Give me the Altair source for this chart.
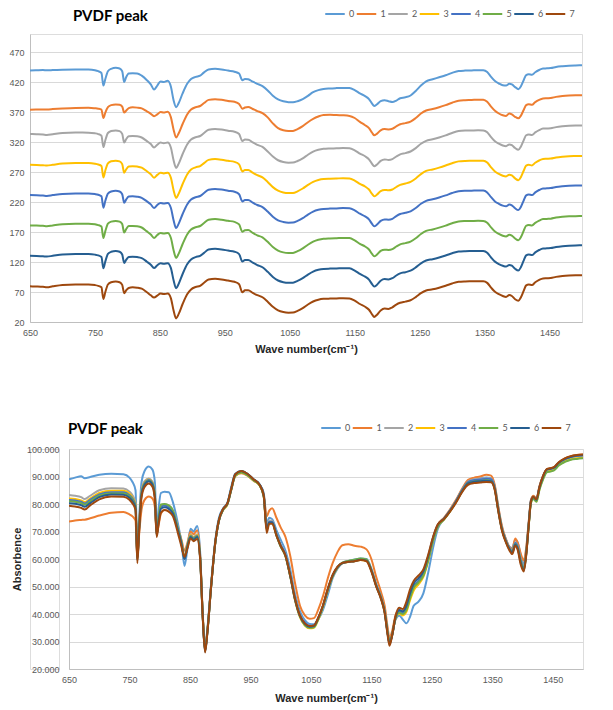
import altair as alt
import pandas as pd

wavenumber = [
    650, 660, 670, 676, 685, 700, 720, 740, 750, 755,
    760, 763, 766, 770, 775, 782, 788, 792, 795, 798,
    802, 808, 815, 822, 830, 836, 841, 846, 851, 856,
    862, 867, 871, 875, 879, 885, 892, 898, 905, 912,
    918, 925, 935, 945, 955, 965, 972, 977, 981, 986,
    993, 1000, 1008, 1016, 1024, 1032, 1040, 1048, 1055, 1062,
    1070, 1078, 1086, 1094, 1102, 1112, 1122, 1132, 1142, 1150,
    1158, 1166, 1172, 1177, 1180, 1184, 1190, 1196, 1202, 1208,
    1214, 1220, 1228, 1236, 1244, 1252, 1260, 1270, 1280, 1290,
    1300, 1310, 1320, 1330, 1340, 1348, 1354, 1360, 1366, 1372,
    1378, 1383, 1388, 1392, 1397, 1402, 1406, 1410, 1414, 1418,
    1423, 1428, 1434, 1440, 1446, 1452, 1460, 1470, 1480, 1490,
    1500,
]

s0 = [
    89.0, 89.6, 90.1, 89.4, 89.8, 90.6, 91.0, 90.8, 89.6, 88.0,
    85.0, 64.0, 75.0, 88.0, 92.0, 93.6, 92.5, 88.0, 70.0, 78.0,
    84.0, 84.5, 84.3, 80.5, 73.0, 66.0, 57.5, 64.0, 71.0, 70.0,
    72.0, 62.0, 40.0, 28.0, 35.0, 51.0, 67.0, 75.0, 78.5, 80.5,
    86.0, 91.0, 92.0, 91.0, 89.0, 87.2, 84.0, 73.0, 75.0, 74.5,
    70.5, 67.0, 63.0, 56.0, 47.0, 41.0, 37.8, 36.4, 36.3, 38.0,
    41.5, 47.0, 53.0, 56.5, 58.5, 59.3, 59.8, 60.2, 60.0, 56.5,
    51.0, 46.5, 41.5, 33.5, 30.0, 32.5, 38.0, 39.5, 38.0, 36.6,
    39.0, 43.0, 44.5, 47.5, 55.0, 64.0, 71.0, 74.5, 77.8, 81.2,
    85.2, 88.3, 89.0, 89.3, 89.6, 89.4, 86.5, 78.5, 71.5, 67.5,
    64.5, 64.0, 67.0, 66.0, 61.5, 58.0, 63.0, 72.5, 81.5, 82.8,
    82.0, 86.2, 90.0, 92.5, 92.8, 93.2, 95.0, 96.3, 97.2, 97.6,
    97.8,
]
s1 = [
    73.6, 74.0, 74.2, 74.3, 74.8, 75.8, 76.8, 77.1, 76.2, 75.5,
    74.0, 60.0, 69.0, 78.0, 81.5, 82.7, 82.0, 79.0, 69.0, 72.0,
    76.5, 77.8, 77.3, 76.0, 71.0, 67.0, 63.0, 66.0, 70.0, 69.0,
    70.5, 61.0, 41.0, 27.5, 34.5, 50.0, 66.0, 74.0, 78.0, 80.0,
    85.0, 90.2, 91.2, 90.3, 88.5, 87.0, 83.5, 75.5, 77.5, 78.5,
    75.0, 71.5, 68.0, 61.0, 51.0, 43.0, 39.5, 38.3, 38.5, 41.5,
    46.5, 53.0, 58.5, 62.5, 65.0, 65.4, 64.8, 64.5, 63.5, 60.0,
    53.5, 48.0, 43.0, 35.0, 31.2, 33.5, 39.5, 41.5, 41.0, 42.0,
    46.0, 49.5, 51.5, 54.0, 60.0, 67.5, 72.5, 75.0, 78.0, 81.5,
    85.5, 88.8, 89.6, 90.0, 90.6, 90.3, 87.0, 79.0, 72.0, 67.5,
    64.5, 63.5, 67.5, 66.0, 62.0, 59.5, 64.0, 73.0, 81.5, 83.0,
    82.0, 86.5, 90.3, 92.6, 93.0, 93.4, 95.2, 96.6, 97.4, 97.8,
    98.0,
]
s2 = [
    83.3, 83.0, 82.5, 81.8, 83.0, 85.0, 85.7, 85.6, 84.5, 83.2,
    80.5, 61.5, 73.0, 85.0, 88.3, 89.3, 88.2, 83.5, 69.0, 74.5,
    79.5, 80.0, 79.5, 77.5, 71.5, 66.5, 61.0, 65.5, 69.0, 68.0,
    69.0, 60.5, 40.0, 26.8, 34.0, 50.0, 66.0, 74.0, 78.0, 80.0,
    85.0, 90.5, 91.8, 90.8, 88.8, 87.0, 83.2, 71.5, 74.0, 73.8,
    69.2, 65.3, 61.8, 54.2, 45.8, 39.6, 36.7, 35.5, 35.7, 38.3,
    42.8, 48.8, 54.0, 57.0, 58.6, 59.2, 59.5, 60.0, 59.7, 56.2,
    50.7, 46.2, 41.2, 33.2, 29.6, 32.2, 38.6, 41.0, 40.2, 41.5,
    45.8, 49.5, 51.5, 54.2, 59.8, 67.0, 72.0, 74.5, 77.6, 81.1,
    85.1, 88.2, 89.0, 89.2, 89.4, 89.2, 86.2, 78.2, 71.2, 67.2,
    64.2, 63.0, 66.0, 64.8, 60.0, 57.0, 62.5, 72.2, 81.2, 82.6,
    81.6, 86.0, 89.8, 92.3, 92.6, 93.0, 94.8, 96.1, 96.9, 97.3,
    97.5,
]
s3 = [
    82.0, 81.8, 81.3, 80.7, 82.0, 84.0, 84.8, 84.8, 83.7, 82.4,
    80.0, 61.0, 72.5, 84.3, 87.8, 88.9, 87.7, 83.2, 68.8, 74.2,
    79.2, 79.7, 79.0, 77.2, 71.2, 66.2, 60.5, 65.2, 68.7, 67.7,
    68.7, 60.2, 40.0, 26.8, 34.0, 50.0, 66.0, 74.0, 77.8, 79.8,
    84.8, 90.2, 91.5, 90.5, 88.6, 86.8, 82.8, 71.0, 73.4, 73.2,
    68.8, 64.7, 61.0, 53.5, 44.8, 38.8, 35.8, 34.8, 35.0, 37.8,
    42.5, 48.5, 53.6, 56.8, 58.4, 58.9, 59.2, 59.6, 59.3, 55.8,
    50.2, 45.8, 40.8, 33.0, 29.6, 32.0, 38.3, 40.2, 39.5, 40.8,
    45.0, 48.5, 50.8, 53.5, 59.2, 66.5, 71.8, 74.3, 77.3, 80.8,
    84.7, 87.7, 88.4, 88.6, 88.8, 88.6, 85.7, 77.7, 70.8, 66.8,
    63.8, 62.6, 65.5, 64.2, 59.3, 56.3, 61.8, 71.6, 80.6, 82.0,
    81.0, 85.4, 89.2, 91.7, 92.0, 92.4, 94.2, 95.5, 96.3, 96.6,
    96.8,
]
s4 = [
    81.5, 81.3, 80.8, 80.2, 81.5, 83.5, 84.3, 84.3, 83.2, 82.0,
    79.5, 60.5, 72.0, 84.0, 87.5, 88.7, 87.5, 83.0, 68.8, 74.0,
    79.0, 79.5, 78.8, 77.0, 71.0, 66.0, 60.0, 65.0, 68.5, 67.5,
    68.5, 60.0, 40.0, 26.5, 34.0, 50.0, 66.0, 74.0, 78.0, 80.0,
    85.0, 90.5, 91.8, 90.8, 88.8, 87.0, 83.0, 71.0, 73.5, 73.5,
    69.0, 65.0, 61.5, 54.0, 45.5, 39.5, 36.8, 35.6, 35.8, 38.5,
    43.0, 49.0, 54.0, 57.0, 58.5, 59.0, 59.3, 59.8, 59.5, 56.0,
    50.5, 46.0, 41.0, 33.0, 29.5, 32.0, 38.5, 41.0, 40.5, 42.0,
    46.5, 50.0, 52.0, 54.5, 60.0, 67.0, 72.0, 74.5, 77.5, 81.0,
    85.0, 88.0, 88.7, 88.9, 89.2, 89.0, 86.0, 78.0, 71.0, 67.0,
    64.0, 62.8, 65.8, 64.5, 59.5, 56.5, 62.0, 72.0, 81.0, 82.5,
    81.5, 86.0, 90.0, 92.5, 92.8, 93.2, 95.0, 96.3, 97.1, 97.5,
    97.7,
]
s5 = [
    81.0, 80.8, 80.3, 79.7, 81.0, 83.0, 83.8, 83.8, 82.8, 81.5,
    79.0, 60.0, 71.5, 83.8, 87.3, 88.5, 87.3, 83.2, 69.0, 74.5,
    79.8, 80.0, 79.5, 77.5, 71.0, 65.8, 60.2, 65.0, 68.3, 67.3,
    68.3, 60.0, 40.0, 26.8, 34.0, 50.0, 66.0, 74.0, 78.0, 80.0,
    85.0, 90.3, 91.5, 90.5, 88.6, 86.8, 82.6, 70.5, 73.0, 73.2,
    68.6, 64.5, 61.0, 53.6, 45.0, 39.0, 36.0, 35.0, 35.2, 38.0,
    42.8, 48.8, 53.8, 57.0, 58.7, 59.3, 59.7, 60.2, 59.8, 56.0,
    50.3, 45.8, 40.8, 33.0, 29.5, 32.0, 38.5, 40.5, 40.0, 41.5,
    45.8, 49.5, 51.5, 54.0, 59.5, 66.7, 71.8, 74.3, 77.3, 80.7,
    84.6, 87.6, 88.2, 88.4, 88.6, 88.4, 85.5, 77.6, 70.7, 66.7,
    63.7, 62.5, 65.4, 64.0, 59.2, 56.2, 61.6, 71.5, 80.4, 81.8,
    80.8, 85.2, 89.0, 91.5, 91.8, 92.2, 94.0, 95.3, 96.1, 96.4,
    96.6,
]
s6 = [
    80.3, 80.1, 79.6, 79.0, 80.3, 82.5, 83.5, 83.4, 82.3, 81.0,
    78.5, 59.5, 71.0, 83.5, 87.0, 88.3, 87.0, 82.5, 68.5, 73.5,
    78.3, 78.8, 78.2, 76.5, 70.5, 65.5, 60.0, 64.5, 68.0, 67.0,
    68.0, 59.8, 39.8, 26.3, 33.8, 50.0, 66.2, 74.2, 78.2, 80.2,
    85.2, 90.8, 92.0, 91.0, 89.0, 87.2, 83.2, 70.8, 73.3, 73.3,
    68.8, 64.8, 61.2, 53.6, 45.0, 39.2, 36.4, 35.4, 35.6, 38.4,
    43.0, 49.0, 54.0, 57.0, 58.5, 59.0, 59.2, 59.7, 59.4, 55.8,
    50.2, 45.6, 40.6, 32.6, 29.0, 31.8, 38.8, 41.5, 41.0, 43.0,
    47.5, 51.0, 53.0, 55.5, 61.0, 67.8, 72.5, 74.7, 77.5, 80.8,
    84.6, 87.5, 88.1, 88.3, 88.5, 88.3, 85.5, 77.5, 70.6, 66.6,
    63.7, 62.3, 65.2, 63.8, 58.7, 55.8, 61.5, 71.8, 81.0, 82.5,
    81.5, 86.0, 90.0, 92.5, 92.8, 93.2, 95.0, 96.4, 97.2, 97.6,
    97.8,
]
s7 = [
    79.4, 79.1, 78.6, 78.0, 79.5, 81.7, 82.7, 82.6, 81.5, 80.2,
    77.8, 58.5, 70.0, 82.5, 86.2, 87.5, 86.3, 81.8, 68.0, 72.5,
    76.8, 77.8, 77.2, 75.5, 69.5, 64.5, 60.8, 64.0, 67.5, 66.5,
    67.3, 59.5, 39.5, 26.0, 33.5, 50.0, 66.3, 74.3, 78.3, 80.3,
    85.3, 90.8, 92.0, 91.0, 89.0, 87.0, 83.0, 69.5, 72.8, 72.8,
    68.5, 64.8, 61.2, 53.8, 45.3, 39.4, 36.6, 35.6, 35.8, 38.6,
    43.2, 49.2, 54.2, 57.2, 58.6, 59.0, 59.2, 59.6, 59.2, 55.5,
    50.0, 45.4, 40.4, 32.2, 28.5, 31.8, 39.3, 42.3, 41.8, 44.5,
    49.0, 52.0, 54.0, 56.2, 61.5, 68.0, 72.6, 74.5, 77.2, 80.5,
    84.3, 87.0, 87.6, 87.8, 88.0, 87.9, 85.2, 77.2, 70.3, 66.3,
    63.3, 61.8, 64.8, 63.3, 58.0, 55.5, 61.2, 71.5, 81.0, 82.6,
    81.7, 86.2, 90.2, 92.7, 93.0, 93.4, 95.2, 96.6, 97.4, 97.8,
    98.0,
]

series_names = ["0", "1", "2", "3", "4", "5", "6", "7"]
series_values = [s0, s1, s2, s3, s4, s5, s6, s7]
colors = ["#5B9BD5", "#ED7D31", "#A5A5A5", "#FFC000",
          "#4472C4", "#70AD47", "#255E91", "#9E480E"]
offset_step = 50  # vertical offset between stacked spectra in the top panel
chart_title = ["PVDF peak"]

x_ticks = [650, 750, 850, 950, 1050, 1150, 1250, 1350, 1450]
top_y_ticks = [20, 70, 120, 170, 220, 270, 320, 370, 420, 470]
bottom_y_ticks = [20, 30, 40, 50, 60, 70, 80, 90, 100]

rows = []
for idx, (name, vals) in enumerate(zip(series_names, series_values)):
    for w, v in zip(wavenumber, vals):
        rows.append({"wn": w, "value": v, "series": name, "idx": idx})
df = pd.DataFrame(rows)
title_df = pd.DataFrame({"t": chart_title})

FONT = "Lato"
LABEL_COLOR = "#595959"
TITLE_COLOR = "#262626"
GRID_COLOR = "#D9D9D9"
DOMAIN_COLOR = "#BFBFBF"
TOP_W = 552
TOP_H = 288
BOT_W = 514
BOT_H = 220
BOT_INDENT = 39  # the lower plot starts this many px right of the upper one
SPACER_GAP = 10


def legend(x, y):
    return alt.Legend(
        title=None, orient="none", legendX=x, legendY=y,
        direction="horizontal", columns=8,
        symbolType="stroke", symbolSize=380, symbolStrokeWidth=2,
        labelFontSize=9, labelColor=LABEL_COLOR, labelFont=FONT,
        labelOffset=3, columnPadding=0.5, clipHeight=10,
    )


def x_enc(title_pad):
    return alt.X(
        "wn:Q",
        scale=alt.Scale(domain=[650, 1500], nice=False, zero=False),
        axis=alt.Axis(
            values=x_ticks, format="d", title="Wave number(cm\u207b\u00b9)",
            grid=False, ticks=False, labelPadding=6, labelFontSize=9,
            labelColor=LABEL_COLOR, domainColor=DOMAIN_COLOR, titleFontSize=11,
            titleFontWeight="bold", titleColor=TITLE_COLOR,
            titlePadding=title_pad, labelFlush=False,
        ),
    )


def title_mark(x, y):
    return alt.Chart(title_df).mark_text(
        align="left", baseline="middle", fontSize=15, fontWeight="bold",
        font=FONT, color="black", clip=False,
    ).encode(x=alt.value(x), y=alt.value(y), text="t:N")


top_lines = (
    alt.Chart(df)
    .transform_calculate(shifted=f"datum.value + (7 - datum.idx) * {offset_step}")
    .mark_line(strokeWidth=2, interpolate="monotone", clip=True)
    .encode(
        x=x_enc(6),
        y=alt.Y(
            "shifted:Q",
            scale=alt.Scale(domain=[20, 500], nice=False, zero=False),
            axis=alt.Axis(
                values=top_y_ticks, title=None, grid=True, gridColor=GRID_COLOR,
                ticks=False, labelPadding=6, labelFontSize=9,
                labelColor=LABEL_COLOR, domainColor=DOMAIN_COLOR,
            ),
        ),
        color=alt.Color(
            "series:N",
            scale=alt.Scale(domain=series_names, range=colors),
            legend=legend(294, -25),
        ),
    )
)
top = alt.layer(top_lines, title_mark(43, -18)).properties(width=TOP_W, height=TOP_H)

bottom_lines = (
    alt.Chart(df)
    .mark_line(strokeWidth=2, interpolate="monotone", clip=True)
    .encode(
        x=x_enc(8),
        y=alt.Y(
            "value:Q",
            scale=alt.Scale(domain=[20, 100], nice=False, zero=False),
            axis=alt.Axis(
                values=bottom_y_ticks, format=".3f", title="Absorbence",
                grid=True, gridColor=GRID_COLOR, ticks=False, labelPadding=10,
                labelFontSize=9, labelColor=LABEL_COLOR, domainColor=DOMAIN_COLOR,
                titleFontSize=11, titleFontWeight="bold", titleColor=TITLE_COLOR,
                titlePadding=4,
            ),
        ),
        color=alt.Color(
            "series:N",
            scale=alt.Scale(domain=series_names, range=colors),
            legend=legend(290, -26),
        ),
    )
)
bottom = alt.layer(bottom_lines, title_mark(-1, -20)).properties(width=BOT_W, height=BOT_H)

# invisible spacer that indents the lower panel (its axis may overlap it)
spacer = alt.Chart(title_df).mark_point(opacity=0).encode(
    x=alt.value(0), y=alt.value(0)
).properties(width=BOT_INDENT - SPACER_GAP, height=BOT_H)

bottom_row = alt.hconcat(spacer, bottom, spacing=SPACER_GAP, bounds="flush")

chart = (
    alt.vconcat(top, bottom_row, spacing=66)
    .resolve_scale(color="independent")
    .resolve_legend(color="independent")
    .properties(padding=0)
    .configure_view(stroke="transparent", strokeWidth=0)
    .configure_axis(labelFont=FONT, titleFont=FONT)
    .configure(background="white")
)

chart.save("out.html", embed_options={"renderer": "svg", "actions": False})
